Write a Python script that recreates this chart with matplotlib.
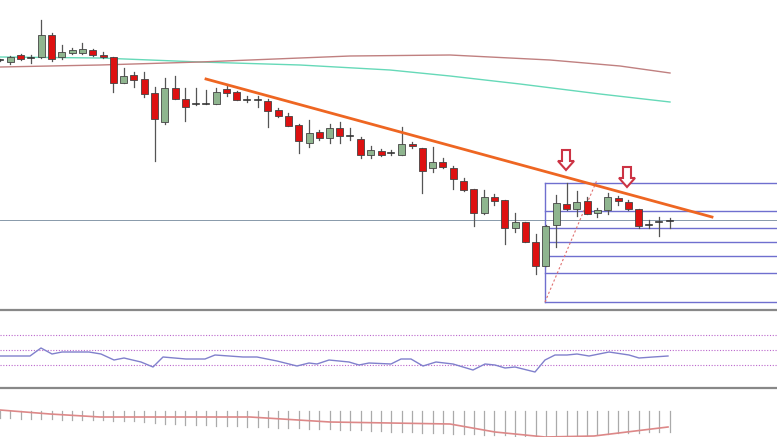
import matplotlib
matplotlib.use("Agg")
import matplotlib.pyplot as plt
import numpy as np

# candle data (price axis inverted: values read as chart units)
open_ = [60,62,55,58,57,35,57,53,53,50,55,57,83,75,79,93,122,88,99,104,104,104,89,92,100,100,101,110,116,125,
         143,132,138,128,136,139,155,151,153,155,144,148,168,162,168,181,189,213,197,200,228,222,242,266,225,204,
         209,201,213,210,198,202,209,225,222,221]
high_ = [59,56,54,55,20,33,45,48,43,49,52,57,68,72,72,87,78,76,88,88,90,88,86,91,96,96,99,108,113,124,
         120,130,124,122,128,137,146,149,150,127,142,148,147,158,166,178,189,190,194,200,213,222,234,225,195,183,
         191,197,208,193,196,200,209,220,217,218]
low_ = [61,64,60,63,58,61,59,54,54,56,58,92,83,87,97,161,124,99,121,105,104,104,96,100,102,107,127,117,126,153,
        147,140,143,143,140,158,158,156,155,155,148,193,172,168,189,191,226,214,205,244,232,242,274,266,247,210,
        216,214,217,214,205,210,228,228,236,228]
close_ = [60,57,59,58,35,59,52,50,49,55,57,83,76,80,94,119,88,99,107,104,104,92,93,100,100,100,111,116,126,141,
          133,138,128,136,137,155,150,155,153,144,146,171,162,167,179,190,213,197,201,228,222,242,266,226,203,209,
          202,214,210,197,201,209,226,225,222,221]

ma_fast_x = [0, 100, 200, 300, 390, 450, 520, 600, 670]
ma_fast_y = [57, 58, 62, 65, 70, 76, 84, 94, 102]
ma_slow_x = [0, 100, 200, 300, 350, 450, 550, 620, 670]
ma_slow_y = [67, 65, 62, 58, 56, 55, 60, 66, 73]

trend_x = [206, 712]
trend_y = [79, 217]
fib_levels = [183, 211, 228, 242, 256, 273, 302]

rsi_x = [0,30,41,52,62,89,101,114,124,141,153,163,186,205,215,243,257,277,297,309,317,329,349,359,369,391,401,
         411,423,436,453,473,485,495,505,515,535,545,555,567,577,589,609,629,639,653,668]
rsi_y = [356,356,348,354,352,352,354,360,358,362,367,357,359,359,355,357,357,361,366,363,364,360,362,365,363,364,
         359,359,366,362,364,370,364,365,368,367,372,360,355,355,354,356,352,355,358,357,356]

macd_bar = [418,418,419,419,419,419,420,420,420,420,420,421,421,421,422,423,424,424,425,425,425,426,426,426,427,
            427,427,428,428,428,429,429,429,430,430,430,431,431,432,432,432,433,433,433,434,434,434,435,435,435,436,
            436,436,436,436,435,435,435,434,434,433,433,433,432,432,432]
sig_x = [0, 50, 100, 250, 330, 450, 495, 545, 594, 668]
sig_y = [410, 414, 417, 417, 422, 424, 432, 437, 436, 427]

fig = plt.figure(figsize=(7.77, 4.37), dpi=100)
ax = fig.add_axes([0, 0, 1, 1])
ax.set_xlim(0, 777)
ax.set_ylim(437, 0)
ax.axis("off")

n = len(open_)
xs = np.arange(n) * 10.3
for i in range(n):
    x = xs[i]
    o, h, l, c = open_[i], high_[i], low_[i], close_[i]
    ax.plot([x, x], [h, l], color="#555555", lw=0.9, zorder=3)
    if abs(o - c) < 1.5:
        ax.plot([x - 3, x + 3], [o, o], color="#333333", lw=1.2, zorder=4)
    else:
        col = "#8fb58f" if c < o else "#dd1111"
        ax.add_patch(plt.Rectangle((x - 3.5, min(o, c)), 7, abs(o - c), facecolor=col,
                                   edgecolor="#444444", lw=0.6, zorder=4))

ax.plot(ma_fast_x, ma_fast_y, color="#66d9b8", lw=1.0, zorder=2)
ax.plot(ma_slow_x, ma_slow_y, color="#c08080", lw=1.0, zorder=2)
ax.plot(trend_x, trend_y, color="#ee6622", lw=2.0, zorder=5)

ax.axhline(220, color="#8899aa", lw=0.7, zorder=1)
for fy in fib_levels:
    ax.plot([545, 777], [fy, fy], color="#6f6fcf", lw=1.0, zorder=2)
ax.plot([545, 545], [183, 302], color="#6f6fcf", lw=1.0, zorder=2)
ax.plot([545, 597], [302, 180], color="#e07070", lw=0.8, ls=(0, (2, 2)), zorder=2)

for ax_x, ay in [(566, 150), (627, 167)]:
    ax.add_patch(plt.Polygon([[ax_x - 4, ay], [ax_x + 4, ay], [ax_x + 4, ay + 11], [ax_x + 8, ay + 11],
                              [ax_x, ay + 20], [ax_x - 8, ay + 11], [ax_x - 4, ay + 11]],
                             closed=True, facecolor="white", edgecolor="#cc3344", lw=1.5, zorder=6))

# panel separators
ax.axhline(310, color="#888888", lw=1.6)
ax.axhline(388, color="#888888", lw=1.6)

for ly in [335, 350, 365]:
    ax.axhline(ly, color="#bb66cc", lw=0.8, ls=(0, (1, 1.5)))
ax.plot(rsi_x, rsi_y, color="#8080cc", lw=1.0)

for i in range(n):
    ax.plot([xs[i], xs[i]], [411, macd_bar[i]], color="#aaaaaa", lw=0.9)
ax.plot(sig_x, sig_y, color="#dd8888", lw=1.2)

fig.savefig("out.png", dpi=100)
